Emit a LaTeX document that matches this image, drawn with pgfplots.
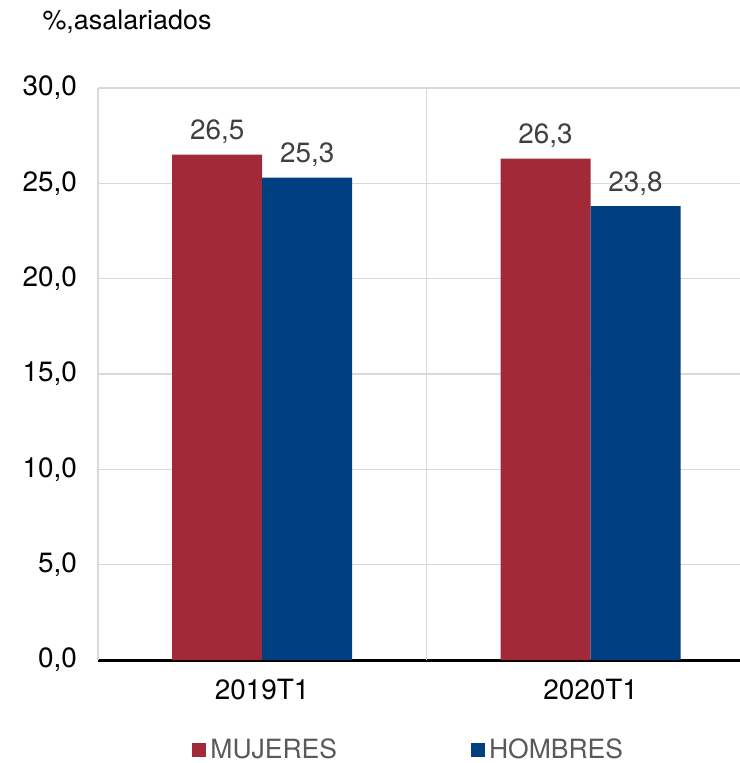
\documentclass[border=0pt]{standalone}
\usepackage{pgfplots}
\pgfplotsset{compat=1.18}
\usepackage{fontspec}
\setmainfont{TeX Gyre Heros}
\definecolor{cRed}{RGB}{161,41,56}
\definecolor{cBlue}{RGB}{0,64,128}
\definecolor{cGrid}{RGB}{217,217,217}
\definecolor{cLab}{RGB}{64,64,64}
\definecolor{cLeg}{RGB}{89,89,89}
\begin{document}
\begin{tikzpicture}
\useasboundingbox (0,0) rectangle (370bp,381.5bp);
\begin{axis}[
  at={(49bp,51.5bp)}, anchor=south west,
  width=321bp, height=286bp, scale only axis,
  xmin=-0.5, xmax=1.455, ymin=0, ymax=30,
  axis x line*=bottom, axis y line*=left,
  x axis line style={black, line width=1.5bp, -},
  y axis line style={cGrid, line width=0.7bp, -},
  xtick={0,1}, xticklabels={2019T1,2020T1},
  extra x ticks={0.5}, extra x tick labels={},
  extra x tick style={grid=major, major grid style={cGrid, line width=0.7bp}},
  ytick={0,5,...,30},
  ymajorgrids, major grid style={cGrid, line width=0.7bp},
  major tick length=0pt,
  tick label style={font=\fontsize{14}{16}\selectfont, text=black},
  /pgf/number format/.cd, use comma, fixed, fixed zerofill, precision=1, assume math mode=true,
  /pgfplots/.cd,
  xticklabel style={yshift=-6bp},
  yticklabel style={xshift=-7bp},
  ybar, bar width=45bp,
  nodes near coords,
  every node near coord/.append style={font=\fontsize{14}{16}\selectfont, text=cLab, anchor=base, yshift=7.5bp,
    /pgf/number format/.cd, use comma, fixed, fixed zerofill, precision=1, assume math mode=true},
  legend columns=2,
  legend style={at={(0.4856,0)}, anchor=center, yshift=-45bp, draw=none, fill=none,
    font=\fontsize{13.3}{15}\selectfont, text=cLeg,
    /tikz/every even column/.append style={column sep=65bp}},
  legend image code/.code={\fill[#1] (0bp,-3.5bp) rectangle (7bp,3.5bp);},
  clip=false,
]
\addplot[fill=cRed, draw=none, bar shift=-22.5bp] coordinates {(0,26.5) (1,26.3)};
\addlegendentry{MUJERES}
\addplot[fill=cBlue, draw=none, bar shift=22.5bp] coordinates {(0,25.3) (1,23.8)};
\addlegendentry{HOMBRES}
\end{axis}
\node[font=\fontsize{13.5}{15}\selectfont, text=black] at (63.5bp,370.5bp) {\%,asalariados};
\end{tikzpicture}
\end{document}
